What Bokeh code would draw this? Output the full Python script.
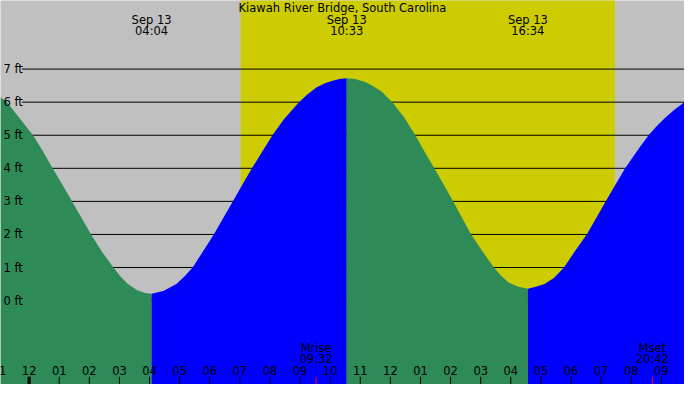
from bokeh.core.properties import value
from bokeh.embed import file_html
from bokeh.models import Range1d
from bokeh.plotting import figure
from bokeh.resources import INLINE

TITLE = "Kiawah River Bridge, South Carolina"

# tide curve, hours after midnight Sep 13 -> height in ft
falling_am_hours = [-0.951, -0.734, -0.302, 0.130, 0.454, 0.779, 1.104, 1.428, 1.743,
                    2.058, 2.425, 2.798, 3.009, 3.268, 3.593, 3.852, 4.067]
falling_am_feet = [6.15, 6.0, 5.5, 5.0, 4.52, 4.0, 3.5, 3.0, 2.5,
                   2.0, 1.47, 1.0, 0.76, 0.51, 0.31, 0.23, 0.21]

rising_am_hours = [4.067, 4.460, 4.891, 5.151, 5.433, 5.784, 6.134, 6.449, 6.764,
                   7.082, 7.400, 7.741, 8.082, 8.462, 8.965, 9.241, 9.542, 9.825,
                   10.084, 10.31, 10.55]
rising_am_feet = [0.21, 0.29, 0.50, 0.72, 1.0, 1.5, 2.0, 2.5, 3.0,
                  3.5, 4.0, 4.5, 5.0, 5.48, 6.0, 6.23, 6.44, 6.57,
                  6.65, 6.70, 6.72]

falling_pm_hours = [10.55, 10.83, 11.165, 11.447, 11.707, 12.064, 12.45, 12.827,
                    13.135, 13.46, 13.775, 14.086, 14.385, 14.683, 15.05, 15.44,
                    15.667, 15.926, 16.251, 16.567]
falling_pm_feet = [6.72, 6.70, 6.61, 6.47, 6.32, 6.0, 5.55, 5.0,
                   4.5, 4.0, 3.5, 3.0, 2.5, 2.0, 1.5, 1.0,
                   0.76, 0.55, 0.42, 0.36]

rising_pm_hours = [16.567, 16.835, 17.118, 17.443, 17.767, 18.134, 18.523, 18.838,
                   19.150, 19.474, 19.799, 20.253, 20.577, 20.827, 21.119, 21.444, 21.77]
rising_pm_feet = [0.36, 0.42, 0.50, 0.69, 1.0, 1.5, 2.0, 2.5,
                  3.0, 3.5, 4.0, 4.6, 5.0, 5.26, 5.52, 5.78, 6.0]

# tide events shown at the top
event_hours = [4.067, 10.55, 16.567]
event_dates = ["Sep 13", "Sep 13", "Sep 13"]
event_times = ["04:04", "10:33", "16:34"]

sunrise_hour = 7.03
sunset_hour = 19.46

moon_hours = [9.533, 20.70]
moon_names = ["Mrise", "Mset"]
moon_times = ["09:32", "20:42"]

level_feet = [0, 1, 2, 3, 4, 5, 6, 7]
level_labels = ["0 ft", "1 ft", "2 ft", "3 ft", "4 ft", "5 ft", "6 ft", "7 ft"]

tick_hours = list(range(-1, 22))
tick_labels = ["11", "12", "01", "02", "03", "04", "05", "06", "07", "08", "09", "10",
               "11", "12", "01", "02", "03", "04", "05", "06", "07", "08", "09"]

X_START, X_END = -0.951, 21.77
Y_START, Y_END = -2.537, 9.074

FONT = value("DejaVu Sans")
FONT_SIZE = "11.5px"


def ref_ft(pixel_y: float) -> float:
    # vertical position of the reference picture, in ft
    return (312.6 - pixel_y) / 34.45


def ref_hour(pixel_x: float) -> float:
    return (pixel_x - 29.3) / 30.81


def add_text(p, xs, ys, texts, align="center"):
    p.text(x=xs, y=ys, text=texts,
           text_font=FONT, text_font_size=FONT_SIZE, text_color="black",
           text_align=align, text_baseline="middle")


def plot():
    p = figure(width=684, height=384,
               x_range=Range1d(X_START, X_END),
               y_range=Range1d(Y_START, Y_END),
               x_axis_location=None, y_axis_location=None,
               toolbar_location=None, output_backend="svg",
               min_border=0)
    p.grid.visible = False
    p.outline_line_color = None
    p.background_fill_color = "#c0c0c0"
    p.border_fill_color = "#c0c0c0"

    # daylight
    p.quad(left=[sunrise_hour], right=[sunset_hour],
           bottom=[Y_START - 1], top=[Y_END + 1],
           fill_color="#cccc00", line_color=None)

    # level lines
    line_start = ref_hour(22)
    p.segment(x0=[line_start] * len(level_feet), y0=level_feet,
              x1=[X_END] * len(level_feet), y1=level_feet,
              line_color="black", line_width=1)

    # water
    bottom = Y_START - 1
    p.varea(x=falling_am_hours, y1=[bottom] * len(falling_am_hours),
            y2=falling_am_feet, fill_color="#2e8b57")
    p.varea(x=rising_am_hours, y1=[bottom] * len(rising_am_hours),
            y2=rising_am_feet, fill_color="#0000ff")
    p.varea(x=falling_pm_hours, y1=[bottom] * len(falling_pm_hours),
            y2=falling_pm_feet, fill_color="#2e8b57")
    p.varea(x=rising_pm_hours, y1=[bottom] * len(rising_pm_hours),
            y2=rising_pm_feet, fill_color="#0000ff")

    # level labels
    add_text(p, [ref_hour(3)] * len(level_feet), level_feet, level_labels, align="left")

    # hour ticks
    tick_top = ref_ft(392)
    p.segment(x0=tick_hours, y0=[Y_START] * len(tick_hours),
              x1=tick_hours, y1=[tick_top] * len(tick_hours),
              line_color="black", line_width=1)
    p.segment(x0=[0], y0=[Y_START], x1=[0], y1=[tick_top],
              line_color="black", line_width=3)
    p.segment(x0=moon_hours, y0=[Y_START] * len(moon_hours),
              x1=moon_hours, y1=[tick_top] * len(moon_hours),
              line_color="#ff0000", line_width=1)
    add_text(p, tick_hours, [ref_ft(385)] * len(tick_hours), tick_labels)

    # moon rise / set
    add_text(p, moon_hours, [ref_ft(362)] * len(moon_hours), moon_names)
    add_text(p, moon_hours, [ref_ft(373.5)] * len(moon_hours), moon_times)

    # tide events
    add_text(p, event_hours, [ref_ft(20.5)] * len(event_hours), event_dates)
    add_text(p, event_hours, [ref_ft(32)] * len(event_hours), event_times)

    # title
    add_text(p, [ref_hour(350)], [ref_ft(7.5)], [TITLE])

    with open("out.html", "w") as file:
        file.write(file_html(p, INLINE))


plot()
